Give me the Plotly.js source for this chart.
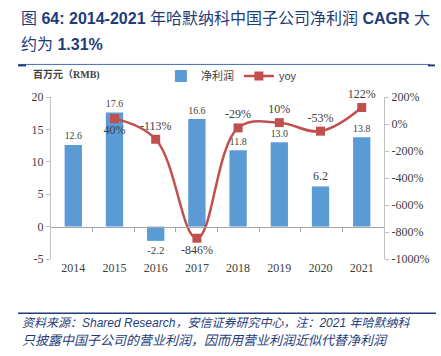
<!DOCTYPE html>
<html><head><meta charset="utf-8">
<script src="https://cdn.plot.ly/plotly-3.0.1.min.js"></script>
<style>html,body{margin:0;padding:0;background:#fff}#c{width:441px;height:356px}</style>
</head><body><div id="c"></div>
<script>
const years = ['2014','2015','2016','2017','2018','2019','2020','2021'];
const netProfit = [12.6, 17.6, -2.2, 16.6, 11.8, 13.0, 6.2, 13.8];
const yoy = [null, 40, -113, -846, -29, 10, -53, 122];
const yoyLabelPos = ['top center','bottom center','top center','bottom center','top center','top center','top center','top center'];
const leftTicks = [-5, 0, 5, 10, 15, 20];
const rightTicks = [-1000, -800, -600, -400, -200, 0, 200];
const boundaries = [0.5,1.5,2.5,3.5,4.5,5.5,6.5];

const serif = 'Liberation Serif';
const cjk = 'Liberation Sans, Noto Sans CJK SC, sans-serif';
const navy = '#1F3C7A';

const traces = [
  {type:'bar', name:'净利润', x:years, y:netProfit, marker:{color:'#5B9BD5'}, width:0.42,
   text:netProfit.map(v=>v.toFixed(1)), textposition:'outside', cliponaxis:false,
   textfont:{family:serif,size:12,color:'#404040'}, hoverinfo:'skip'},
  {type:'scatter', name:'yoy', x:years, y:yoy, yaxis:'y2', mode:'lines+markers+text',
   line:{color:'#C0504D', width:2.5, shape:'spline', smoothing:1.1},
   marker:{symbol:'square', size:9, color:'#C0504D'},
   text:yoy.map(v=>v===null?'':v+'%'), textposition:yoyLabelPos, cliponaxis:false,
   textfont:{family:serif,size:12,color:'#404040'}, connectgaps:false},
  {type:'scatter', x:[], y:[], xaxis:'x3', showlegend:false, hoverinfo:'skip'}
];

const layout = {
  width:441, height:356,
  margin:{l:51, r:57, t:97, b:97},
  paper_bgcolor:'#fff', plot_bgcolor:'#fff',
  showlegend:true,
  legend:{orientation:'h', x:0.33, y:1.13, xanchor:'left', yanchor:'middle',
    font:{family:cjk, size:11, color:'#404040'}, itemwidth:30,
    bgcolor:'rgba(0,0,0,0)'},
  xaxis:{type:'category', showline:false, ticks:'', showgrid:false, zeroline:false,
    tickfont:{family:serif, size:12, color:'#404040'}},
  xaxis3:{overlaying:'x', anchor:'free', position:0.2, range:[-0.5,7.5],
    tickvals:boundaries, ticks:'outside', ticklen:4, tickcolor:'#a6a6a6',
    showticklabels:false, showline:true, linecolor:'#a6a6a6', linewidth:1,
    showgrid:false, zeroline:false},
  yaxis:{range:[-5,20], tickvals:leftTicks, ticktext:leftTicks.map(String), showgrid:false, zeroline:false, showline:true,
    linecolor:'#bfbfbf', ticks:'outside', ticklen:4, tickcolor:'#bfbfbf',
    tickfont:{family:serif, size:12, color:'#404040'}},
  yaxis2:{overlaying:'y', side:'right', range:[-1000,200], tickvals:rightTicks, ticktext:rightTicks.map(v=>v+'%'),
    showgrid:false, zeroline:false, showline:true, linecolor:'#bfbfbf', ticks:'outside',
    ticklen:4, tickcolor:'#bfbfbf', tickfont:{family:serif, size:12, color:'#404040'}},
  annotations:[
    {xref:'paper', yref:'paper', x:-0.095, y:1.482, xanchor:'left', yanchor:'middle', showarrow:false,
     text:'图 <b>64: 2014-2021</b> 年哈默纳科中国子公司净利润 <b>CAGR</b> 大', font:{family:cjk, size:16, color:navy}},
    {xref:'paper', yref:'paper', x:-0.095, y:1.323, xanchor:'left', yanchor:'middle', showarrow:false,
     text:'约为 <b>1.31%</b>', font:{family:cjk, size:16, color:navy}},
    {xref:'paper', yref:'paper', x:-0.06, y:1.134, xanchor:'left', yanchor:'middle', showarrow:false,
     text:'<b>百万元（RMB)</b>', font:{family:'Liberation Serif, Noto Sans CJK SC', size:10, color:'#404040'}},
    {xref:'paper', yref:'paper', x:-0.093, y:-0.396, xanchor:'left', yanchor:'middle', showarrow:false,
     text:'<i>资料来源：Shared Research，安信证券研究中心，注：2021 年哈默纳科</i>', font:{family:cjk, size:12, color:navy}},
    {xref:'paper', yref:'paper', x:-0.093, y:-0.506, xanchor:'left', yanchor:'middle', showarrow:false,
     text:'<i>只披露中国子公司的营业利润，因而用营业利润近似代替净利润</i>', font:{family:cjk, size:13, color:navy}}
  ],
  shapes:[
    {type:'line', xref:'paper', yref:'paper', x0:-0.099, x1:1.138, y0:1.201, y1:1.201, line:{color:'#4A6FC0', width:1}},
    {type:'line', xref:'paper', yref:'paper', x0:-0.099, x1:-0.075, y0:1.195, y1:1.195, line:{color:'#1F3C7A', width:2}},
    {type:'line', xref:'paper', yref:'paper', x0:1.132, x1:1.153, y0:1.195, y1:1.195, line:{color:'#1F3C7A', width:2}},
    {type:'line', xref:'paper', yref:'paper', x0:-0.099, x1:1.156, y0:-0.335, y1:-0.335, line:{color:'#1F3C7A', width:1.5}}
  ]
};
Plotly.newPlot('c', traces, layout, {displayModeBar:false, staticPlot:true});
</script></body></html>
